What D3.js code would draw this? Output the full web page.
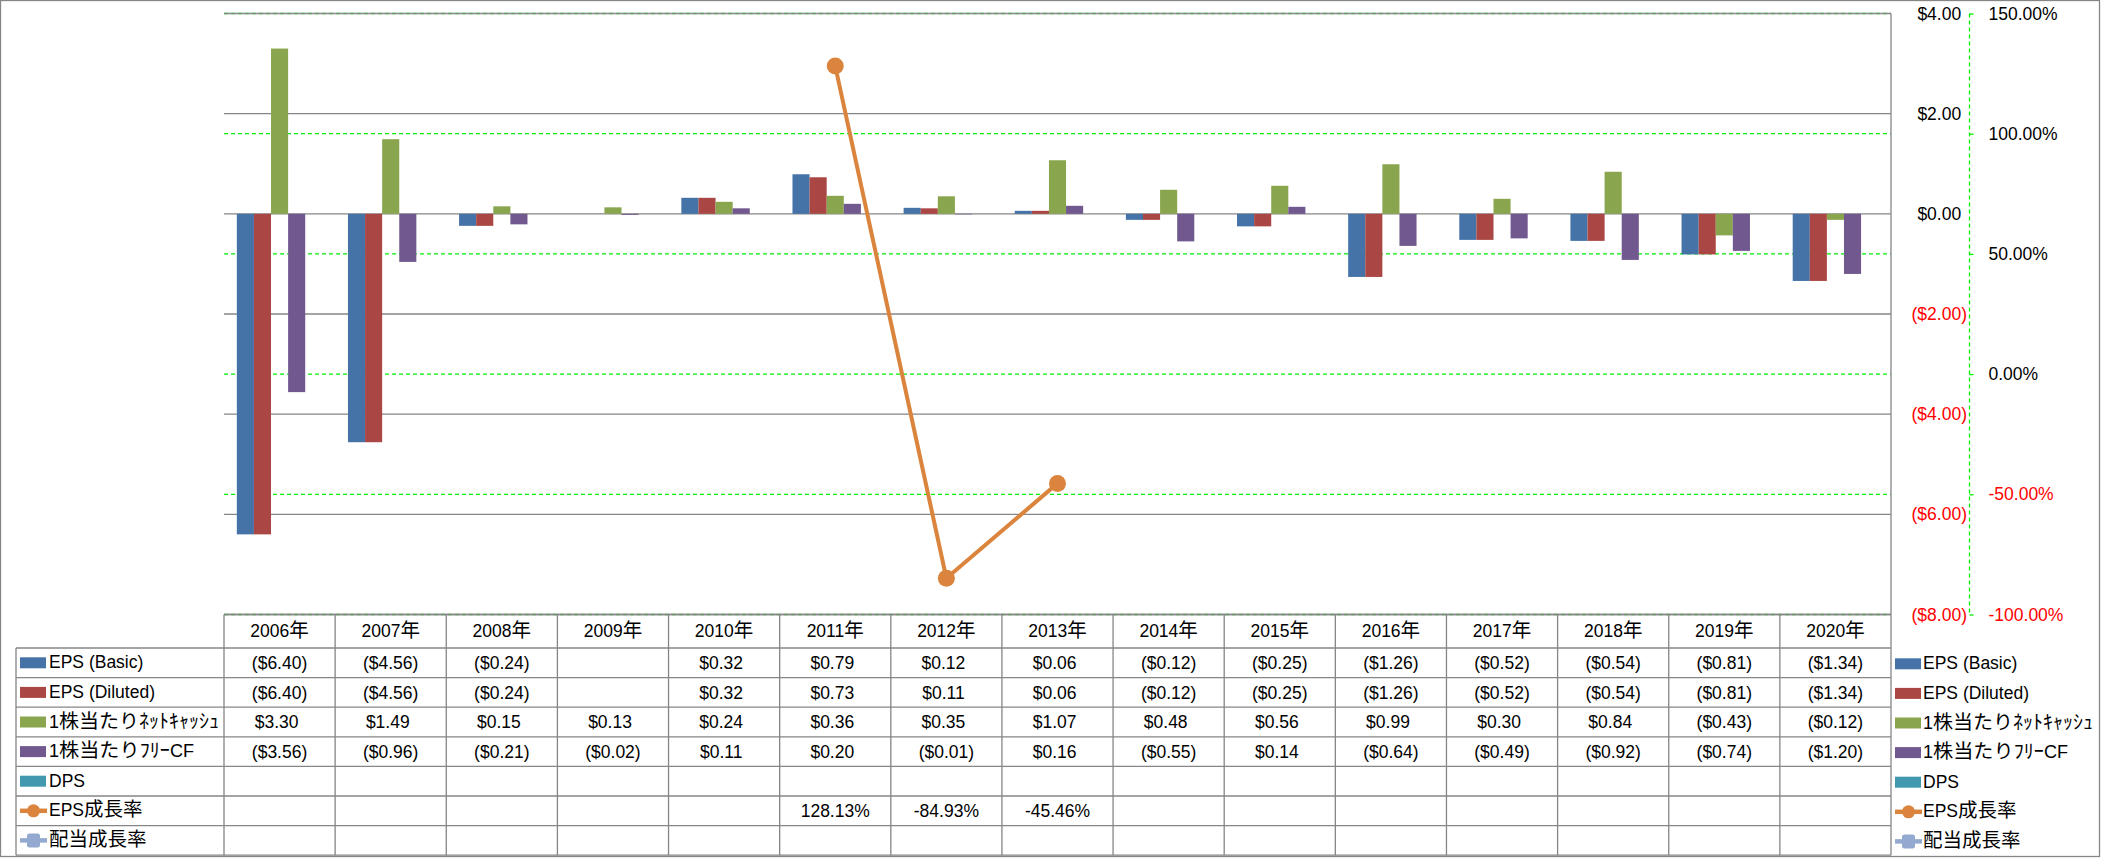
<!DOCTYPE html>
<html>
<head>
<meta charset="utf-8">
<script src="https://cdn.jsdelivr.net/npm/d3@7"></script>
<style>
  html, body { margin: 0; padding: 0; background: #fff; }
  svg { display: block; }
  text { font-family: "Liberation Sans", "Noto Sans CJK JP", sans-serif; }
</style>
</head>
<body>
<svg id="chart" width="2101" height="858"></svg>
<script>
// ---------- DATA ----------
const categories = ["2006年","2007年","2008年","2009年","2010年","2011年","2012年","2013年","2014年","2015年","2016年","2017年","2018年","2019年","2020年"];
const epsBasic   = [-6.40,-4.56,-0.24,null,0.32,0.79,0.12,0.06,-0.12,-0.25,-1.26,-0.52,-0.54,-0.81,-1.34];
const epsDiluted = [-6.40,-4.56,-0.24,null,0.32,0.73,0.11,0.06,-0.12,-0.25,-1.26,-0.52,-0.54,-0.81,-1.34];
const netCash    = [3.30,1.49,0.15,0.13,0.24,0.36,0.35,1.07,0.48,0.56,0.99,0.30,0.84,-0.43,-0.12];
const freeCF     = [-3.56,-0.96,-0.21,-0.02,0.11,0.20,-0.01,0.16,-0.55,0.14,-0.64,-0.49,-0.92,-0.74,-1.20];
const dps        = [null,null,null,null,null,null,null,null,null,null,null,null,null,null,null];
const epsGrowth  = [null,null,null,null,null,128.13,-84.93,-45.46,null,null,null,null,null,null,null];
const divGrowth  = [null,null,null,null,null,null,null,null,null,null,null,null,null,null,null];

const leftTicks  = [4,2,0,-2,-4,-6,-8];
const rightTicks = [150,100,50,0,-50,-100];

const barSeries = [
  {name:"EPS (Basic)", values:epsBasic, color:"#4572A7"},
  {name:"EPS (Diluted)", values:epsDiluted, color:"#AA4643"},
  {name:"1株当たりﾈｯﾄｷｬｯｼｭ", values:netCash, color:"#89A54E", labelWidth:170},
  {name:"1株当たりﾌﾘｰCF", values:freeCF, color:"#71588F", labelWidth:145},
  {name:"DPS", values:dps, color:"#4198AF"}
];
const lineSeries = [
  {name:"EPS成長率", values:epsGrowth, color:"#DB843D", marker:"circle"},
  {name:"配当成長率", values:divGrowth, color:"#93A9CF", marker:"square"}
];

// ---------- LAYOUT ----------
const plotL = 224, plotR = 1891, plotT = 13.5, plotB = 614.5;
const FS = 17.5, FS_CJK = 19.5;
const LATIN = "'Liberation Sans', Arial, sans-serif";
const CJK = "'Noto Sans CJK JP', sans-serif";
const svg = d3.select("#chart");
const GRID = "#868686";
const GREEN = "#00ee00";

const x0 = d3.scaleBand().domain(categories).range([plotL, plotR]).padding(0);
const x1 = d3.scaleBand().domain(barSeries.map(s=>s.name)).range([0, x0.bandwidth()]).paddingInner(0).paddingOuter(0.75);
const yL = d3.scaleLinear().domain([-8,4]).range([plotB, plotT]);
const yR = d3.scaleLinear().domain([-100,150]).range([plotB, plotT]);

const money = v => v == null ? "" : (v < 0 ? "($" + Math.abs(v).toFixed(2) + ")" : "$" + v.toFixed(2));
const pct = v => v == null ? "" : v.toFixed(2) + "%";

// accounting-style: positive numbers get an invisible trailing ")" so they align like Excel's "_)"
function padPositive(sel) {
  sel.each(function(d) {
    const v = (d && typeof d === "object") ? d.v : d;
    if (v != null && v >= 0) d3.select(this).append("tspan").attr("fill-opacity",0).text(")");
  });
}

// rich text: Latin runs in Liberation Sans, CJK runs in Noto Sans CJK JP
function richText(sel, str, width) {
  sel.text(null);
  str.split(/([\u3000-\u30ff\u4e00-\u9fff\uff00-\uffef]+)/).filter(p => p.length).forEach(p => {
    const isCJK = /[\u3000-\u30ff\u4e00-\u9fff\uff00-\uffef]/.test(p);
    sel.append("tspan").attr("font-family", isCJK ? CJK : LATIN)
      .attr("font-size", isCJK ? FS_CJK : FS).text(p);
  });
  if (width) sel.attr("textLength", width).attr("lengthAdjust","spacingAndGlyphs");
}

// outer border
svg.append("rect").attr("x",0.5).attr("y",0.5).attr("width",2099).attr("height",856)
  .attr("fill","#fff").attr("stroke",GRID).attr("stroke-width",1.3);

// green dashed gridlines (secondary axis)
svg.append("g").selectAll("line").data(rightTicks).join("line")
  .attr("x1",plotL).attr("x2",plotR)
  .attr("y1",d=>yR(d)).attr("y2",d=>yR(d))
  .attr("stroke",GREEN).attr("stroke-width",1.3).attr("stroke-dasharray","4,3");

// gray gridlines (primary axis)
svg.append("g").selectAll("line").data(leftTicks).join("line")
  .attr("x1",plotL).attr("x2",plotR)
  .attr("y1",d=>yL(d)).attr("y2",d=>yL(d))
  .attr("stroke",GRID).attr("stroke-width",1.3);

// bars
const barG = svg.append("g");
barSeries.forEach(s => {
  barG.append("g").selectAll("rect")
    .data(categories.map((c,i)=>({c, v:s.values[i]})).filter(d=>d.v!=null))
    .join("rect")
    .attr("x", d => x0(d.c) + x1(s.name))
    .attr("width", x1.bandwidth())
    .attr("y", d => Math.min(yL(d.v), yL(0)))
    .attr("height", d => Math.abs(yL(d.v) - yL(0)))
    .attr("fill", s.color);
});

// right border of plot / $ axis line
svg.append("line").attr("x1",plotR).attr("x2",plotR).attr("y1",plotT).attr("y2",plotB)
  .attr("stroke",GRID).attr("stroke-width",1.3);

// $ axis labels (right side), right-aligned with accounting padding
const axisL = d3.axisRight(yL).tickValues(leftTicks).tickSize(0).tickPadding(0).tickFormat(money);
const gL = svg.append("g").attr("transform",`translate(1967,0)`).call(axisL);
gL.select(".domain").remove();
gL.attr("font-family",null).attr("font-size",null);
gL.selectAll("text").attr("font-size",FS).attr("font-family",LATIN)
  .attr("fill",d=>d<0?"#ff0000":"#000").attr("x",0).attr("text-anchor","end")
  .call(padPositive);

// % axis
const axisR = d3.axisRight(yR).tickValues(rightTicks).tickSize(4).tickPadding(15).tickFormat(pct);
const gR = svg.append("g").attr("transform",`translate(1969.5,0)`).call(axisR);
gR.attr("font-family",null).attr("font-size",null);
gR.select(".domain").attr("stroke",GREEN).attr("stroke-width",1.3).attr("stroke-dasharray","4,3")
  .attr("d",`M0,${plotT}V${plotB}`);
gR.selectAll(".tick line").attr("stroke",GREEN).attr("stroke-width",1.3);
gR.selectAll("text").attr("font-size",FS).attr("font-family",LATIN)
  .attr("fill",d=>d<0?"#ff0000":"#000");

// growth lines
lineSeries.forEach(s => {
  const pts = categories.map((c,i)=>({c, v:s.values[i]}));
  const line = d3.line().defined(d=>d.v!=null)
    .x(d=>x0(d.c)+x0.bandwidth()/2).y(d=>yR(d.v));
  svg.append("path").datum(pts).attr("d",line).attr("fill","none")
    .attr("stroke",s.color).attr("stroke-width",4).attr("stroke-linejoin","round");
  const def = pts.filter(d=>d.v!=null);
  if (s.marker === "circle") {
    svg.append("g").selectAll("circle").data(def).join("circle")
      .attr("cx",d=>x0(d.c)+x0.bandwidth()/2).attr("cy",d=>yR(d.v)).attr("r",8.5)
      .attr("fill",s.color);
  } else {
    svg.append("g").selectAll("rect").data(def).join("rect")
      .attr("x",d=>x0(d.c)+x0.bandwidth()/2-6).attr("y",d=>yR(d.v)-6)
      .attr("width",12).attr("height",12).attr("rx",2).attr("fill",s.color);
  }
});

// ---------- DATA TABLE ----------
const allSeries = barSeries.concat(lineSeries);
const headTop = plotB, headBot = 648, rowH = 29.6;
const tableL = 16;
const tbl = svg.append("g");
tbl.append("line").attr("x1",plotL).attr("x2",plotR).attr("y1",headTop).attr("y2",headTop)
  .attr("stroke",GRID).attr("stroke-width",1.3);
const rowLines = d3.range(allSeries.length + 1).map(k => headBot + k*rowH);
tbl.selectAll(".hl").data(rowLines).join("line")
  .attr("x1",tableL).attr("x2",plotR).attr("y1",d=>d).attr("y2",d=>d)
  .attr("stroke",GRID).attr("stroke-width",1.3);
const colEdges = categories.map(c=>x0(c)).concat([plotR]);
tbl.selectAll(".vl").data(colEdges).join("line")
  .attr("x1",d=>d).attr("x2",d=>d).attr("y1",headTop).attr("y2",rowLines[rowLines.length-1])
  .attr("stroke",GRID).attr("stroke-width",1.3);
tbl.append("line").attr("x1",tableL).attr("x2",tableL).attr("y1",headBot).attr("y2",rowLines[rowLines.length-1])
  .attr("stroke",GRID).attr("stroke-width",1.3);
tbl.selectAll(".hd").data(categories).join("text")
  .attr("x",c=>x0(c)+x0.bandwidth()/2).attr("y",(headTop+headBot)/2).attr("dy","0.35em")
  .attr("text-anchor","middle")
  .each(function(c){ richText(d3.select(this), c); });
allSeries.forEach((s,k) => {
  const cy = headBot + k*rowH + rowH/2;
  const isMoney = k < barSeries.length;
  const fmt = isMoney ? money : pct;
  const t = tbl.append("g").selectAll("text").data(categories.map((c,i)=>({c,v:s.values[i]})).filter(d=>d.v!=null))
    .join("text")
    .attr("x",d=>x0(d.c)+x0.bandwidth()/2).attr("y",cy).attr("dy","0.35em")
    .attr("text-anchor","middle").attr("font-size",FS).attr("font-family",LATIN).text(d=>fmt(d.v));
  if (isMoney) t.call(padPositive);
});

function drawKey(g, s, x, cy) {
  if (s.marker) {
    g.append("line").attr("x1",x).attr("x2",x+27).attr("y1",cy).attr("y2",cy)
      .attr("stroke",s.color).attr("stroke-width",4.5);
    if (s.marker === "circle") {
      g.append("circle").attr("cx",x+13.5).attr("cy",cy).attr("r",6.5).attr("fill",s.color);
    } else {
      g.append("rect").attr("x",x+7).attr("y",cy-7).attr("width",13).attr("height",14).attr("rx",2.5).attr("fill",s.color);
    }
  } else {
    g.append("rect").attr("x",x).attr("y",cy-5.5).attr("width",26).attr("height",11).attr("fill",s.color);
  }
}
allSeries.forEach((s,k) => {
  const cy = headBot + k*rowH + rowH/2;
  drawKey(tbl, s, 20, cy);
  richText(tbl.append("text").attr("x",49).attr("y",cy).attr("dy","0.35em"), s.name, s.labelWidth);
  drawKey(tbl, s, 1895, cy + 1);
  richText(tbl.append("text").attr("x",1923).attr("y",cy + 1).attr("dy","0.35em"), s.name, s.labelWidth);
});
</script>
</body>
</html>
